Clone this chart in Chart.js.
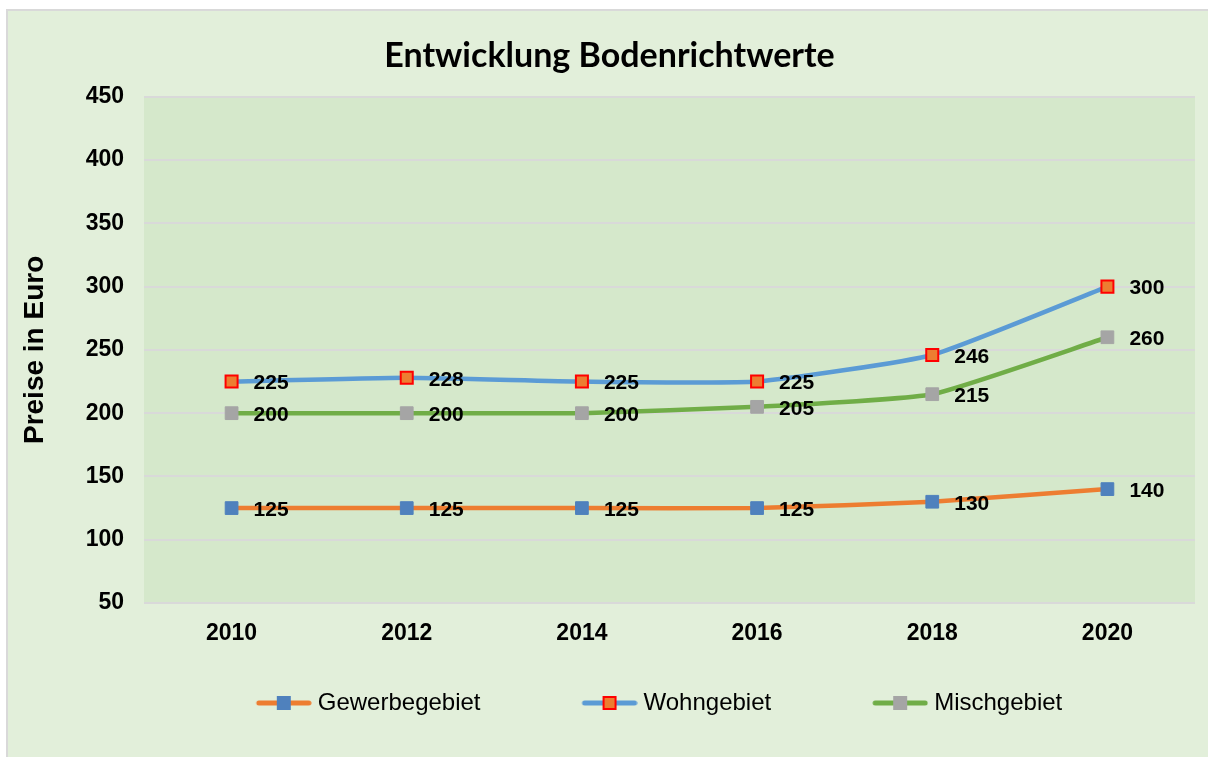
<!DOCTYPE html>
<html>
<head>
<meta charset="utf-8">
<script src="https://cdn.jsdelivr.net/npm/chart.js@4/dist/chart.umd.min.js"></script>
<style>
  html, body { margin: 0; padding: 0; background: #fff; }
  canvas { display: block; }
</style>
</head>
<body>
<canvas id="chart" width="1208" height="757"></canvas>
<script>
// Daten
const years = ["2010", "2012", "2014", "2016", "2018", "2020"];
const gewerbegebiet = [125, 125, 125, 125, 130, 140];
const wohngebiet = [225, 228, 225, 225, 246, 300];
const mischgebiet = [200, 200, 200, 205, 215, 260];
const yTicks = [50, 100, 150, 200, 250, 300, 350, 400, 450];

const FONT = "'Liberation Sans', Arial, sans-serif";
Chart.defaults.font.family = FONT;
Chart.defaults.color = "#000";

// Legendensymbol: Linie mit Marker (links transparent, für den Abstand)
const SYMBOL_W = 161;
function legendSymbol(lineColor, fill, stroke) {
  const c = document.createElement("canvas");
  c.width = SYMBOL_W;
  c.height = 18;
  const g = c.getContext("2d");
  const x0 = SYMBOL_W - 56;
  g.strokeStyle = lineColor;
  g.lineWidth = 5;
  g.lineCap = "round";
  g.beginPath();
  g.moveTo(x0 + 3, 9);
  g.lineTo(SYMBOL_W - 3, 9);
  g.stroke();
  g.fillStyle = fill;
  g.fillRect(x0 + 21, 2, 14, 14);
  if (stroke) {
    g.strokeStyle = stroke;
    g.lineWidth = 2;
    g.strokeRect(x0 + 22, 3, 12, 12);
  }
  return c;
}

// Hintergrund und Plotfläche
const backgroundPlugin = {
  id: "background",
  beforeDraw(chart) {
    const { ctx, chartArea, width, height } = chart;
    ctx.save();
    ctx.fillStyle = "#ffffff";
    ctx.fillRect(0, 0, width, height);
    ctx.fillStyle = "#e2efda";
    ctx.fillRect(7, 10, 1210, 760);
    ctx.strokeStyle = "#d9d9d9";
    ctx.lineWidth = 2;
    ctx.strokeRect(7, 10, 1210, 760);
    ctx.fillStyle = "#d5e8cb";
    ctx.fillRect(chartArea.left, chartArea.top, chartArea.right - chartArea.left, chartArea.bottom - chartArea.top);
    ctx.restore();
  },
};

// Datenbeschriftungen rechts neben den Punkten
const valueLabels = {
  id: "valueLabels",
  afterDatasetsDraw(chart) {
    const { ctx } = chart;
    ctx.save();
    ctx.font = "bold 21px " + FONT;
    ctx.fillStyle = "#000";
    ctx.textAlign = "left";
    ctx.textBaseline = "middle";
    chart.data.datasets.forEach((ds, i) => {
      chart.getDatasetMeta(i).data.forEach((pt, j) => {
        ctx.fillText(ds.data[j], pt.x + 22, pt.y + 2);
      });
    });
    ctx.restore();
  },
};

const symbols = [
  legendSymbol("#ed7d31", "#4f81bd"),
  legendSymbol("#5b9bd5", "#ed7d31", "#ff0000"),
  legendSymbol("#70ad47", "#a5a5a5"),
];

new Chart(document.getElementById("chart"), {
  type: "line",
  data: {
    labels: years,
    datasets: [
      {
        label: "Gewerbegebiet",
        data: gewerbegebiet,
        borderColor: "#ed7d31",
        pointBackgroundColor: "#4f81bd",
        pointBorderColor: "#4f81bd",
        pointBorderWidth: 1,
      },
      {
        label: "Wohngebiet",
        data: wohngebiet,
        borderColor: "#5b9bd5",
        pointBackgroundColor: "#ed7d31",
        pointBorderColor: "#ff0000",
        pointBorderWidth: 2,
        pointRadius: 8.5,
        pointHoverRadius: 8.5,
      },
      {
        label: "Mischgebiet",
        data: mischgebiet,
        borderColor: "#70ad47",
        pointBackgroundColor: "#a5a5a5",
        pointBorderColor: "#a5a5a5",
        pointBorderWidth: 1,
      },
    ],
  },
  options: {
    responsive: false,
    animation: false,
    layout: { padding: { left: 24, right: 13, top: 0, bottom: 32 } },
    elements: {
      line: { borderWidth: 4.5, tension: 0.15, fill: false },
      point: { pointStyle: "rect", radius: 9, hoverRadius: 9 },
    },
    scales: {
      x: {
        offset: true,
        grid: { display: false },
        border: { display: false },
        ticks: { font: { size: 23, weight: "bold" }, padding: 9 },
        afterFit: (scale) => { scale.height = 86; },
      },
      y: {
        min: 50,
        max: 450,
        afterBuildTicks: (scale) => { scale.ticks = yTicks.map((v) => ({ value: v })); },
        grid: { color: "#d9d9d9", lineWidth: 2, drawTicks: false },
        border: { display: false },
        ticks: { font: { size: 23, weight: "bold" }, padding: 20 },
        title: {
          display: true,
          text: "Preise in Euro",
          font: { size: 28, weight: "bold" },
          padding: { top: -6, bottom: 0 },
        },
        afterFit: (scale) => { scale.width = 120; },
      },
    },
    plugins: {
      title: {
        display: true,
        text: "Entwicklung Bodenrichtwerte",
        color: "#000",
        font: { family: "Lato", size: 34, weight: "bold" },
        padding: { top: 36, bottom: 20 },
      },
      legend: {
        position: "bottom",
        labels: {
          color: "#000",
          font: { size: 24 },
          usePointStyle: true,
          pointStyleWidth: SYMBOL_W - 12,
          padding: 2,
          generateLabels: (chart) =>
            Chart.defaults.plugins.legend.labels.generateLabels(chart).map((item, i) => {
              item.pointStyle = symbols[i];
              return item;
            }),
        },
      },
      tooltip: { enabled: false },
    },
  },
  plugins: [backgroundPlugin, valueLabels],
});
</script>
</body>
</html>
